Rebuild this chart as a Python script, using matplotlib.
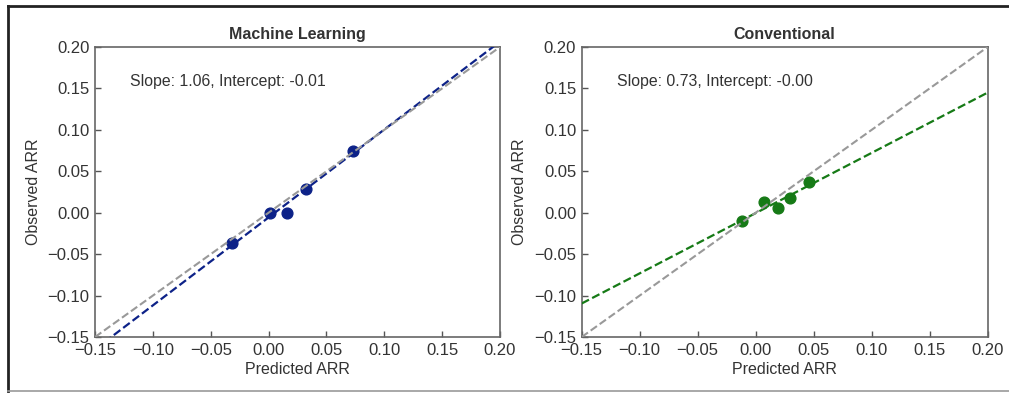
import numpy as np
import matplotlib.pyplot as plt
from matplotlib.lines import Line2D

plt.rcParams['font.family'] = ['Liberation Sans', 'DejaVu Sans']

# predicted vs observed ARR
ml_pred = [-0.032, 0.001, 0.016, 0.032, 0.073]
ml_obs = [-0.037, 0.000, 0.000, 0.029, 0.075]
conv_pred = [-0.012, 0.007, 0.019, 0.030, 0.046]
conv_obs = [-0.0105, 0.0135, 0.0055, 0.0175, 0.037]

titles = ['Machine Learning', 'Conventional']
colors = ['#0d2288', '#167a16']
lims = [-0.15, 0.20]
ticks = [-0.15, -0.10, -0.05, 0.00, 0.05, 0.10, 0.15, 0.20]

fig = plt.figure(figsize=(10.09, 3.93), dpi=100)
axes = [fig.add_axes([0.0942, 0.1425, 0.4014, 0.738]),
        fig.add_axes([0.5765, 0.1425, 0.4024, 0.738])]

# frame around the figure (screenshot border)
fig.add_artist(Line2D([0.008, 0.008], [0.005, 0.985], transform=fig.transFigure, color='#222222', lw=2))
fig.add_artist(Line2D([0.008, 1.0], [0.985, 0.985], transform=fig.transFigure, color='#222222', lw=2))
fig.add_artist(Line2D([0.008, 1.0], [0.005, 0.005], transform=fig.transFigure, color='#999999', lw=1.2))

data = [(ml_pred, ml_obs), (conv_pred, conv_obs)]
for ax, (xp, yo), title, col in zip(axes, data, titles, colors):
    xp = np.array(xp)
    yo = np.array(yo)
    slope, intercept = np.polyfit(xp, yo, 1)
    ax.scatter(xp, yo, s=60, color=col, zorder=2)
    xs = np.array(lims)
    ax.plot(xs, slope * xs + intercept, '--', color=col, lw=1.6, zorder=3)
    ax.plot(lims, lims, '--', color='#999999', lw=1.5, zorder=4)
    ax.text(0.086, 0.88, f'Slope: {slope:.2f}, Intercept: {intercept:.2f}',
            transform=ax.transAxes, fontsize=11.4, color='#333333', va='center')
    ax.set_xlim(lims)
    ax.set_ylim(lims)
    ax.set_xticks(ticks)
    ax.set_yticks(ticks)
    ax.set_xticklabels([f'{t:.2f}'.replace('-', '\u2212') for t in ticks])
    ax.set_yticklabels([f'{t:.2f}'.replace('-', '\u2212') for t in ticks])
    ax.tick_params(direction='in', length=4, width=1, colors='#555555',
                   labelcolor='#333333', labelsize=12, pad=4)
    for sp in ax.spines.values():
        sp.set_color('#666666')
        sp.set_linewidth(1.2)
    ax.set_title(title, fontsize=11.5, fontweight='bold', color='#333333', pad=6)
    ax.set_xlabel('Predicted ARR', fontsize=11.5, color='#333333', labelpad=3)
    ax.set_ylabel('Observed ARR', fontsize=11.5, color='#333333', labelpad=5)

fig.savefig('out.png', dpi=100)
